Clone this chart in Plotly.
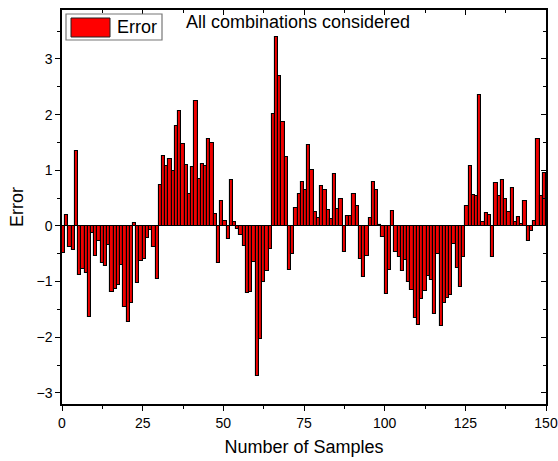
import plotly.graph_objects as go

samples = list(range(1, 151))
errors = [
    -0.48, 0.20, -0.37, -0.44, 1.34, -0.89, -0.77, -0.85, -1.63, -0.13,
    -0.54, -0.27, -0.66, -0.72, -0.35, -1.18, -1.13, -1.07, -0.70, -1.46,
    -1.72, -1.39, 0.05, -1.02, -0.63, -0.60, -0.21, -0.08, -0.37, -0.96,
    0.73, 1.25, 1.07, 1.20, 0.98, 1.79, 2.06, 1.47, 1.09, 0.58,
    1.06, 2.24, 0.85, 1.12, 1.08, 1.57, 1.49, 0.22, -0.66, 0.45,
    0.08, -0.23, 0.82, 0.07, -0.06, -0.17, -0.36, -1.21, -1.19, -0.65,
    -2.70, -2.03, -1.01, -0.81, -0.42, 2.02, 3.40, 2.69, 1.87, 1.23,
    -0.80, -0.51, 0.33, 0.58, 0.79, 0.64, 1.45, 1.00, 0.25, 0.15,
    0.71, 0.64, 0.29, 0.13, 0.94, 0.31, 0.49, -0.47, 0.17, 0.18,
    0.57, 0.35, -0.60, -0.91, -0.54, 0.14, 0.79, 0.64, 0.01, -0.20,
    -1.22, -0.80, 0.27, -0.47, -0.56, -0.81, -0.62, -1.01, -1.16, -1.65,
    -1.78, -1.32, -1.17, -0.90, -0.98, -1.58, -0.50, -1.79, -1.39, -1.30,
    -1.25, -0.32, -0.75, -1.10, -0.56, 0.35, 1.07, 0.56, 0.53, 2.35,
    0.07, 0.23, 0.20, -0.56, 0.78, 0.53, 0.83, 0.49, 0.25, 0.68,
    0.07, 0.16, 0.04, 0.45, -0.27, -0.10, 0.08, 1.56, 0.53, 0.96,
]
x_ticks = [0, 25, 50, 75, 100, 125, 150]
y_ticks = [-3, -2, -1, 0, 1, 2, 3]
x_range = [0, 150]
y_range = [-3.2, 3.88]

FONT = "Liberation Sans, Arial, sans-serif"

fig = go.Figure()
fig.add_trace(go.Bar(
    x=samples, y=errors, name="Error",
    offset=-1, width=1,
    marker=dict(color="#F00000", line=dict(color="#000000", width=1.1)),
    showlegend=False,
))
fig.add_trace(go.Scatter(x=[None], y=[None], xaxis="x2", yaxis="y2",
                         showlegend=False, hoverinfo="skip"))

axis_common = dict(showgrid=False, linecolor="black", linewidth=1.5,
                   tickcolor="black", tickwidth=1.2, ticklen=5,
                   automargin=False)

fig.update_layout(
    width=558, height=461,
    margin=dict(l=62, r=12, t=10, b=57),
    paper_bgcolor="white", plot_bgcolor="white",
    font=dict(family=FONT, color="black", size=14),
    bargap=0,
    showlegend=False,
    xaxis=dict(range=x_range, tickvals=x_ticks, ticks="outside",
               showline=True, mirror=True, zeroline=False,
               tickfont=dict(size=14),
               minor=dict(ticks="outside", dtick=12.5, tick0=0, ticklen=3,
                          tickcolor="black", tickwidth=1.2, showgrid=False),
               title=dict(text="Number of Samples", font=dict(size=18), standoff=11),
               **axis_common),
    yaxis=dict(range=y_range, tickvals=y_ticks, ticks="outside",
               showline=True, mirror=True,
               zeroline=True, zerolinecolor="#888888", zerolinewidth=1,
               tickfont=dict(size=14),
               minor=dict(ticks="outside", dtick=0.5, tick0=0, ticklen=3,
                          tickcolor="black", tickwidth=1.2, showgrid=False),
               title=dict(text="Error", font=dict(size=18), standoff=8),
               **axis_common),
    xaxis2=dict(range=x_range, tickvals=x_ticks, ticks="inside", overlaying="x",
                side="top", anchor="y2", showticklabels=False, showline=False,
                zeroline=False,
                minor=dict(ticks="inside", dtick=12.5, tick0=0, ticklen=3,
                           tickcolor="black", tickwidth=1.2, showgrid=False),
                **axis_common),
    yaxis2=dict(range=y_range, tickvals=y_ticks, ticks="inside", overlaying="y",
                side="right", anchor="x2", showticklabels=False, showline=False,
                zeroline=False,
                minor=dict(ticks="inside", dtick=0.5, tick0=0, ticklen=3,
                           tickcolor="black", tickwidth=1.2, showgrid=False),
                **axis_common),
)

# legend box drawn by hand (wide swatch as in the reference)
def px_x(p):
    return (p - 62) / 484.0

def px_y(p):
    return (404 - p) / 394.0

fig.add_shape(type="rect", xref="paper", yref="paper",
              x0=px_x(66), x1=px_x(162), y0=px_y(40), y1=px_y(14),
              line=dict(color="#777777", width=1.2), fillcolor="white")
fig.add_shape(type="rect", xref="paper", yref="paper",
              x0=px_x(71), x1=px_x(110), y0=px_y(37), y1=px_y(18),
              line=dict(color="#222222", width=1), fillcolor="#FF0000")
fig.add_annotation(xref="paper", yref="paper", x=px_x(115), y=px_y(27),
                   text="Error", showarrow=False, xanchor="left", yanchor="middle",
                   font=dict(size=18, family=FONT, color="black"))
fig.add_annotation(xref="paper", yref="paper", x=px_x(184), y=px_y(22),
                   text="All combinations considered", showarrow=False,
                   xanchor="left", yanchor="middle",
                   font=dict(size=18, family=FONT, color="black"))

# remove the default page margin so the 558x461 figure fills the window exactly
fig.write_html(
    "out.html",
    config={"displayModeBar": False},
    post_script="document.body.style.margin='0px';document.body.style.overflow='hidden';",
)
